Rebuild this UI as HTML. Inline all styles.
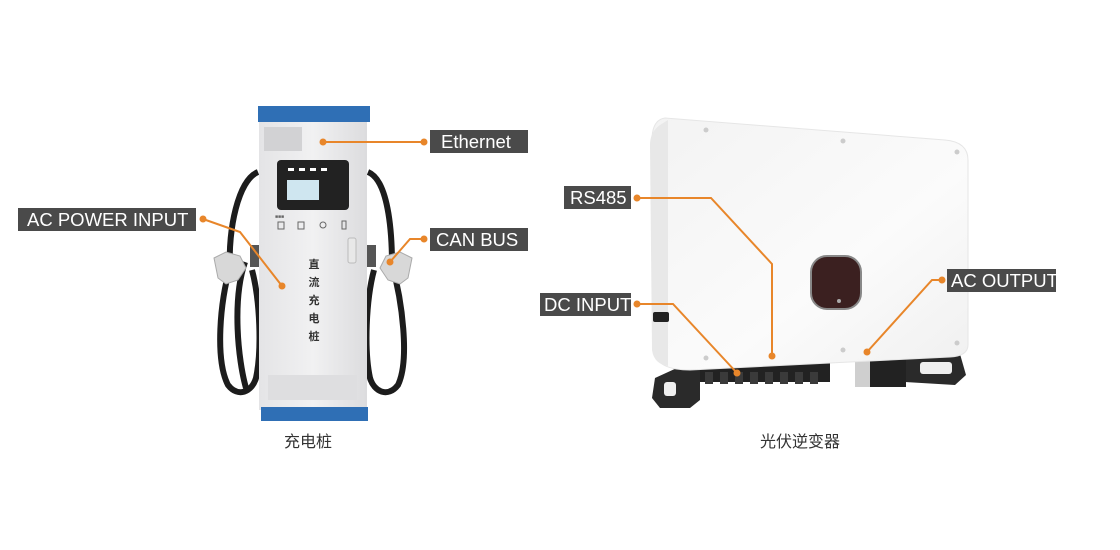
<!DOCTYPE html>
<html><head><meta charset="utf-8"><style>
html,body{margin:0;padding:0;background:#fff;}
svg{display:block}
</style></head><body>
<svg width="1120" height="550" viewBox="0 0 1120 550" xmlns="http://www.w3.org/2000/svg" font-family="Liberation Sans, Noto Sans CJK SC, sans-serif">
<defs>
<linearGradient id="body" x1="0" x2="1"><stop offset="0" stop-color="#e4e4e6"/><stop offset="0.5" stop-color="#f1f1f2"/><stop offset="1" stop-color="#dcdcde"/></linearGradient>
<linearGradient id="inv" x1="0" x2="1" y1="0" y2="1"><stop offset="0" stop-color="#f3f3f3"/><stop offset="0.6" stop-color="#fbfbfb"/><stop offset="1" stop-color="#f0f0f0"/></linearGradient>
</defs>
<!-- ===== Charger ===== -->
<path d="M258 172 C238 180 228 230 230 268 C220 300 215 360 228 385 C238 398 252 392 256 378 C262 350 260 300 252 270" fill="none" stroke="#1c1c1c" stroke-width="6"/>
<path d="M245 262 C232 300 238 360 246 388" fill="none" stroke="#1c1c1c" stroke-width="6"/>
<path d="M368 172 C388 180 392 230 392 265 C402 300 410 360 398 385 C388 398 374 392 370 378 C364 350 366 300 374 270" fill="none" stroke="#1c1c1c" stroke-width="6"/>
<path d="M214 258 L226 252 L240 256 L246 268 L238 280 L226 284 L218 278 Z" fill="#d8d8d8" stroke="#aaa"/>
<path d="M412 258 L400 252 L386 256 L380 268 L388 280 L400 284 L408 278 Z" fill="#d8d8d8" stroke="#aaa"/>
<rect x="250" y="245" width="12" height="22" fill="#555"/>
<rect x="364" y="245" width="12" height="22" fill="#555"/>
<rect x="259" y="120" width="108" height="290" fill="url(#body)"/>
<rect x="258" y="106" width="112" height="16" fill="#2f6fb5"/>
<rect x="261" y="407" width="107" height="14" fill="#2f6fb5"/>
<rect x="264" y="127" width="38" height="24" fill="#d2d2d4"/>
<rect x="268" y="375" width="89" height="25" fill="#dedee0"/>
<rect x="277" y="160" width="72" height="50" rx="4" fill="#222"/>
<rect x="287" y="180" width="32" height="20" fill="#cfe6f0"/>
<g fill="#fff"><rect x="288" y="168" width="6" height="3"/><rect x="299" y="168" width="6" height="3"/><rect x="310" y="168" width="6" height="3"/><rect x="321" y="168" width="6" height="3"/></g>
<g fill="#666" font-size="5"><text x="275" y="218">■■■</text><rect x="278" y="222" width="6" height="7" fill="none" stroke="#666"/><rect x="298" y="222" width="6" height="7" fill="none" stroke="#666"/><circle cx="323" cy="225" r="3" fill="none" stroke="#666"/><rect x="342" y="221" width="4" height="8" fill="none" stroke="#666"/></g>
<rect x="348" y="238" width="8" height="25" rx="2" fill="#e8e8e8" stroke="#bbb"/>
<g font-size="11" fill="#333" text-anchor="middle" font-weight="bold"><text x="314" y="268">直</text><text x="314" y="286">流</text><text x="314" y="304">充</text><text x="314" y="322">电</text><text x="314" y="340">桩</text></g>
<g stroke="#e8862a" stroke-width="2" fill="none">
<path d="M323 142 L424 142"/>
<path d="M203 219 L240 232 L282 286"/>
<path d="M424 239 L410 239 L390 262"/>
</g>
<g fill="#e8862a"><circle cx="323" cy="142" r="3.5"/><circle cx="424" cy="142" r="3.5"/><circle cx="203" cy="219" r="3.5"/><circle cx="282" cy="286" r="3.5"/><circle cx="424" cy="239" r="3.5"/><circle cx="390" cy="262" r="3.5"/></g>
<g fill="#4a4a4a"><rect x="430" y="130" width="98" height="23"/><rect x="18" y="208" width="178" height="23"/><rect x="430" y="228" width="98" height="23"/></g>
<g fill="#fff" font-size="18.5"><text x="441" y="148">Ethernet</text><text x="27" y="226">AC POWER INPUT</text><text x="436" y="246">CAN BUS</text></g>
<text x="308" y="447" font-size="16" fill="#333" text-anchor="middle">充电桩</text>
<!-- ===== Inverter ===== -->
<path d="M655 378 L690 362 L700 365 L700 400 L690 408 L660 408 L652 398 Z" fill="#2a2a2a"/>
<rect x="664" y="382" width="12" height="14" rx="3" fill="#eee"/>
<path d="M900 358 L960 354 L966 375 L955 385 L905 382 Z" fill="#2a2a2a"/>
<rect x="920" y="362" width="32" height="12" rx="3" fill="#eee"/>
<rect x="700" y="360" width="130" height="22" fill="#222"/>
<g fill="#3a3a3a"><rect x="705" y="372" width="8" height="12"/><rect x="720" y="372" width="8" height="12"/><rect x="735" y="372" width="8" height="12"/><rect x="750" y="372" width="8" height="12"/><rect x="765" y="372" width="8" height="12"/><rect x="780" y="372" width="8" height="12"/><rect x="795" y="372" width="8" height="12"/><rect x="810" y="372" width="8" height="12"/></g>
<rect x="855" y="357" width="15" height="30" fill="#cfcfcf"/>
<rect x="870" y="355" width="36" height="32" fill="#222"/>
<path d="M665 118 L945 140 Q968 142 968 160 L968 345 Q968 356 950 357 L690 370 Q660 370 655 355 L652 140 Q652 120 665 118 Z" fill="url(#inv)" stroke="#e6e6e6"/>
<path d="M660 125 Q650 132 650 145 L652 350 Q654 364 668 366 L668 120 Z" fill="#e8e8e8"/>
<rect x="653" y="312" width="16" height="10" rx="2" fill="#222"/>
<g fill="#ccc"><circle cx="706" cy="130" r="2.5"/><circle cx="843" cy="141" r="2.5"/><circle cx="957" cy="152" r="2.5"/><circle cx="706" cy="358" r="2.5"/><circle cx="843" cy="350" r="2.5"/><circle cx="957" cy="343" r="2.5"/></g>
<rect x="811" y="256" width="50" height="53" rx="16" fill="#3b2020" stroke="#888" stroke-width="2"/>
<circle cx="839" cy="301" r="2" fill="#aaa"/>
<g stroke="#e8862a" stroke-width="2" fill="none">
<path d="M637 198 L711 198 L772 264 L772 356"/>
<path d="M637 304 L673 304 L737 373"/>
<path d="M942 280 L932 280 L867 352"/>
</g>
<g fill="#e8862a"><circle cx="637" cy="198" r="3.5"/><circle cx="772" cy="356" r="3.5"/><circle cx="637" cy="304" r="3.5"/><circle cx="737" cy="373" r="3.5"/><circle cx="942" cy="280" r="3.5"/><circle cx="867" cy="352" r="3.5"/></g>
<g fill="#4a4a4a"><rect x="564" y="186" width="67" height="23"/><rect x="540" y="293" width="91" height="23"/><rect x="947" y="269" width="109" height="23"/></g>
<g fill="#fff" font-size="18.5"><text x="570" y="204">RS485</text><text x="544" y="311">DC INPUT</text><text x="951" y="287">AC OUTPUT</text></g>
<text x="800" y="447" font-size="16" fill="#333" text-anchor="middle">光伏逆变器</text>
</svg>
</body></html>
